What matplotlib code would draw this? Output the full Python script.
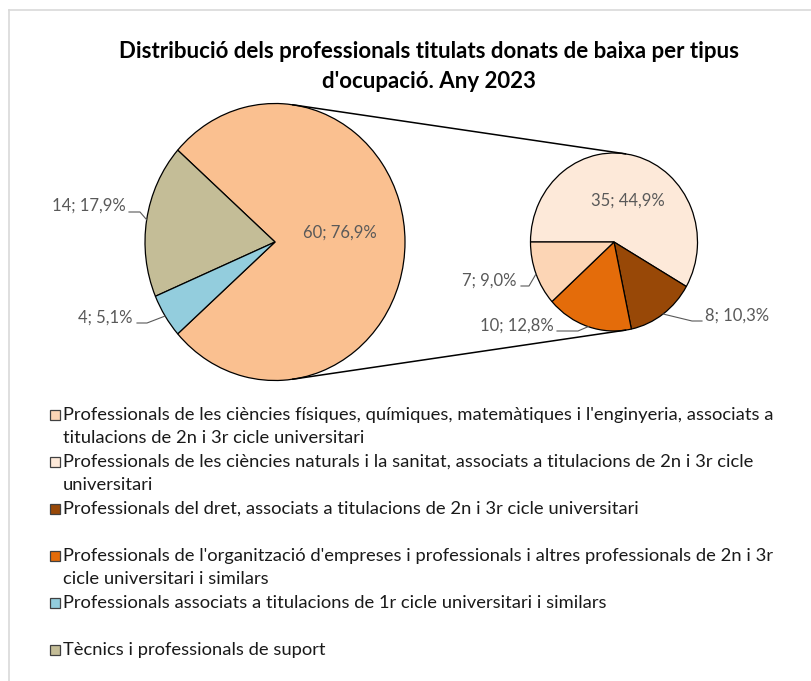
import matplotlib
matplotlib.use("Agg")
import matplotlib.pyplot as plt
import numpy as np

plt.rcParams['font.family'] = ['Lato', 'DejaVu Sans']

# ---------------- data ----------------
title_lines = ["Distribució dels professionals titulats donats de baixa per tipus",
               "d'ocupació. Any 2023"]
legend_labels = [
    "Professionals de les ciències físiques, químiques, matemàtiques i l'enginyeria, associats a\ntitulacions de 2n i 3r cicle universitari",
    "Professionals de les ciències naturals i la sanitat, associats a titulacions de 2n i 3r cicle\nuniversitari",
    "Professionals del dret, associats a titulacions de 2n i 3r cicle universitari",
    "Professionals de l'organització d'empreses i professionals i altres professionals de 2n i 3r\ncicle universitari i similars",
    "Professionals associats a titulacions de 1r cicle universitari i similars",
    "Tècnics i professionals de suport",
]
values = [7, 35, 8, 10, 4, 14]
colors = ['#FCD5B5', '#FDE9D9', '#984807', '#E46C0A', '#93CDDD', '#C4BD97']
other_color = '#FAC090'
main_idx = [5, 4]            # shown in the first pie (besides "other")
second_idx = [1, 2, 3, 0]    # split into the second pie (clockwise from left)

# ---------------- layout ----------------
W, H = 811, 681
fig = plt.figure(figsize=(W / 100, H / 100), dpi=100)
fig.patch.set_facecolor('white')

total = sum(values)
other = sum(values[i] for i in second_idx)

def fmt(v):
    return f"{v}; {v / total * 100:.1f}%".replace('.', ',')

# main pie geometry (pixels)
c1 = (275.0, 242.0); r1x, r1y = 130.0, 138.5
c2 = (614.0, 242.0); r2x, r2y = 83.5, 89.0

def add_pie_axes(c, rx, ry):
    ax = fig.add_axes([(c[0] - rx) / W, 1 - (c[1] + ry) / H, 2 * rx / W, 2 * ry / H])
    return ax

wp = dict(edgecolor='black', linewidth=0.9)
ax1 = add_pie_axes(c1, r1x, r1y)
vals1 = [other] + [values[i] for i in main_idx]
cols1 = [other_color] + [colors[i] for i in main_idx]
start1 = -other / total * 360 / 2
w1, _ = ax1.pie(vals1, colors=cols1, startangle=start1, counterclock=True,
                radius=1, wedgeprops=wp)
ax1.set_xlim(-1.0, 1.0); ax1.set_ylim(-1.0, 1.0); ax1.set_aspect('auto'); ax1.axis('off')

ax2 = add_pie_axes(c2, r2x, r2y)
vals2 = [values[i] for i in second_idx]
cols2 = [colors[i] for i in second_idx]
w2, _ = ax2.pie(vals2, colors=cols2, startangle=180, counterclock=False,
                radius=1, wedgeprops=wp)
ax2.set_xlim(-1.0, 1.0); ax2.set_ylim(-1.0, 1.0); ax2.set_aspect('auto'); ax2.axis('off')

# overlay axes in pixel coordinates
bg = fig.add_axes([0, 0, 1, 1], zorder=5)
bg.set_xlim(0, W); bg.set_ylim(H, 0); bg.axis('off')
bg.patch.set_alpha(0)

# chart border (top/left visible)
bg.plot([9, W], [10, 10], color='#D9D9D9', lw=1.2)
bg.plot([9, 9], [10, H], color='#D9D9D9', lw=1.2)

def edge(c, rx, ry, ang):
    a = np.deg2rad(ang)
    return c[0] + rx * np.cos(a), c[1] - ry * np.sin(a)

def mid(w):
    return (w.theta1 + w.theta2) / 2

# connector lines (outer tangents)
d = c2[0] - c1[0]
phi = np.rad2deg(np.arcsin((r1x - r2x) / d))
for sgn in (1, -1):
    p = edge(c1, r1x, r1y, sgn * (90 - phi))
    q = edge(c2, r2x, r2y, sgn * (90 - phi))
    bg.plot([p[0], q[0]], [p[1], q[1]], color='black', lw=1.1)

renderer = fig.canvas.get_renderer()

def fit(t, target):
    w = t.get_window_extent(renderer).width
    t.set_fontsize(t.get_fontsize() * target / w)

lab_col = '#595959'
# data labels
t60 = bg.text(340, 233, fmt(other), ha='center', va='center', color=lab_col, fontsize=11)
fit(t60, 74)
fs_lab = t60.get_fontsize()

t = bg.text(126, 206, fmt(values[main_idx[0]]), ha='right', va='center', color=lab_col, fontsize=fs_lab)
e = edge(c1, r1x, r1y, mid(w1[1]))
bg.plot([129, 140, e[0]], [212, 212, e[1]], color=lab_col, lw=0.8)

t = bg.text(133, 318, fmt(values[main_idx[1]]), ha='right', va='center', color=lab_col, fontsize=fs_lab)
e = edge(c1, r1x, r1y, mid(w1[2]))
bg.plot([137, 147, e[0]], [323, 323, e[1]], color=lab_col, lw=0.8)

bg.text(628, 201, fmt(vals2[0]), ha='center', va='center', color=lab_col, fontsize=fs_lab)

e = edge(c2, r2x, r2y, mid(w2[1]))
bg.text(705, 316, fmt(vals2[1]), ha='left', va='center', color=lab_col, fontsize=fs_lab)
bg.plot([e[0], 692, 702], [e[1], 321, 321], color=lab_col, lw=0.8)

e = edge(c2, r2x, r2y, mid(w2[2]))
bg.text(554, 326, fmt(vals2[2]), ha='right', va='center', color=lab_col, fontsize=fs_lab)
bg.plot([557, 578, e[0]], [331, 331, e[1]], color=lab_col, lw=0.8)

e = edge(c2, r2x, r2y, mid(w2[3]))
bg.text(517, 281, fmt(vals2[3]), ha='right', va='center', color=lab_col, fontsize=fs_lab)
bg.plot([521, 529, e[0]], [286, 286, e[1]], color=lab_col, lw=0.8)

# title
tt = bg.text(429, 52, title_lines[0], ha='center', va='center', fontweight='bold',
             color='black', fontsize=14)
fit(tt, 624)
bg.text(429, 82, title_lines[1], ha='center', va='center', fontweight='bold',
        color='black', fontsize=tt.get_fontsize())

# legend
slot_y = 415
slot_h = 47
line_h = 23
tl = bg.text(63, slot_y, legend_labels[0].split('\n')[0], ha='left', va='center',
             color='#1a1a1a', fontsize=12)
fit(tl, 708)
fs_leg = tl.get_fontsize()
tl.remove()
for k, lab in enumerate(legend_labels):
    y0 = slot_y + k * slot_h
    bg.add_patch(plt.Rectangle((49.5, y0 - 5.5), 10.5, 10.5, facecolor=colors[k],
                               edgecolor='#404040', lw=0.9))
    for j, line in enumerate(lab.split('\n')):
        bg.text(63, y0 + j * line_h, line, ha='left', va='center',
                color='#1a1a1a', fontsize=fs_leg)

fig.savefig('out.png', dpi=100, facecolor='white')
